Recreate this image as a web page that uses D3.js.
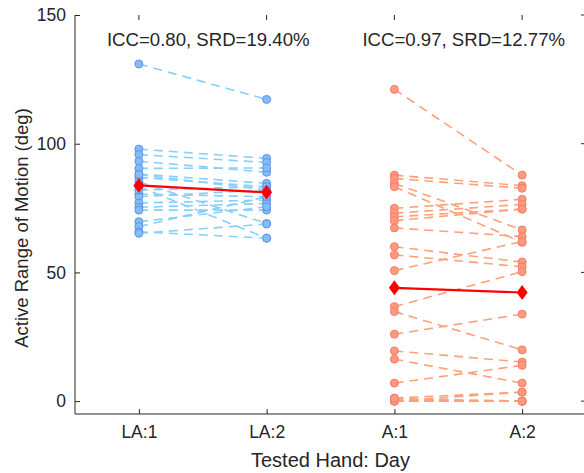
<!DOCTYPE html>
<html lang="en">
<head>
<meta charset="UTF-8">
<title>Active Range of Motion</title>
<script src="https://d3js.org/d3.v7.min.js"></script>
<style>
  body { margin: 0; background: #fff; }
  text { font-family: "Liberation Sans", Arial, sans-serif; fill: #262626; }
</style>
</head>
<body>
<div id="chart"></div>
<script>
// x positions and labels
var tickLabels = ["LA:1", "LA:2", "A:1", "A:2"];
var yTicks = [0, 50, 100, 150];

// left-hand (LA) subjects, day 1 and day 2
var la1 = [131, 97.9, 95.8, 93.2, 90.4, 88.2, 86.9, 85.2, 83.3, 80.4, 79.4, 77.0, 75.3, 74.2, 69.7, 67.8, 65.8, 65.2, 82.0, 88.0];
var la2 = [117.2, 94.3, 92.7, 88.9, 90.6, 84.6, 83.3, 69.0, 63.3, 79.4, 82.0, 78.1, 76.8, 74.2, 75.5, 79.4, 63.3, 68.8, 83.3, 82.0];

// affected hand (A) subjects, day 1 and day 2
var a1 = [121.1, 87.8, 86.5, 84.6, 83.3, 74.9, 73.0, 71.6, 70.1, 67.3, 60.0, 56.8, 50.7, 36.7, 34.8, 26.0, 19.5, 16.3, 7.0, 1.2, 0, 0, 0, 0.5, 0, 1.0];
var a2 = [87.8, 83.7, 82.7, 66.5, 61.7, 78.4, 76.4, 74.6, 74.6, 63.9, 54.0, 52.2, 62.0, 50.3, 19.9, 33.8, 15.2, 7.0, 13.9, 3.5, 0, 0, 0, 0, 3.5, 0];

// group means
var meanLA = [83.8, 81.1];
var meanA = [44.0, 42.2];

var notes = ["ICC=0.80, SRD=19.40%", "ICC=0.97, SRD=12.77%"];
var notePos = [0.75, 2.75];

var W = 584, H = 473;
var x = d3.scaleLinear().domain([0.5, 4.5]).range([75, 586]);
var y = d3.scaleLinear().domain([-5, 150]).range([414, 15]);

var svg = d3.select("#chart").append("svg")
  .attr("width", W).attr("height", H);

var plot = svg.append("g");

function drawPairs(d1, d2, xs, lineCol, fillCol, edgeCol) {
  for (var i = 0; i < d1.length; i++) {
    var pts = [[xs[0], d1[i]], [xs[1], d2[i]]];
    var g = plot.append("g");
    g.append("path")
      .attr("d", d3.line().x(function(d) { return x(d[0]); }).y(function(d) { return y(d[1]); })(pts))
      .attr("fill", "none")
      .attr("stroke", lineCol)
      .attr("stroke-width", 1.6)
      .attr("stroke-dasharray", "9,6");
    g.selectAll("circle").data(pts).join("circle")
      .attr("cx", function(d) { return x(d[0]); })
      .attr("cy", function(d) { return y(d[1]); })
      .attr("r", 4)
      .attr("fill", fillCol)
      .attr("stroke", edgeCol)
      .attr("stroke-width", 1);
  }
}

drawPairs(la1, la2, [1, 2], "#87cefa", "#82bdf8", "#5f93e8");
drawPairs(a1, a2, [3, 4], "#ffa07a", "#ff9a7e", "#f47f6a");

function drawMean(m, xs) {
  var pts = [[xs[0], m[0]], [xs[1], m[1]]];
  plot.append("path")
    .attr("d", d3.line().x(function(d) { return x(d[0]); }).y(function(d) { return y(d[1]); })(pts))
    .attr("fill", "none")
    .attr("stroke", "#ff0000")
    .attr("stroke-width", 2.2);
  plot.selectAll(null).data(pts).join("path")
    .attr("transform", function(d) { return "translate(" + x(d[0]) + "," + y(d[1]) + ")"; })
    .attr("d", "M0,-7.5L5.5,0L0,7.5L-5.5,0Z")
    .attr("fill", "#ff0000");
}
drawMean(meanLA, [1, 2]);
drawMean(meanA, [3, 4]);

// axes (box with inward ticks)
var axisCol = "#262626";
var x0 = x.range()[0], x1 = x.range()[1], y0 = y.range()[0], y1 = y.range()[1];
svg.append("line").attr("x1", x0).attr("x2", x1).attr("y1", y0).attr("y2", y0).attr("stroke", axisCol);
svg.append("line").attr("x1", x0).attr("x2", x0).attr("y1", y0).attr("y2", y1).attr("stroke", axisCol);
svg.append("line").attr("x1", x1 - 0.5).attr("x2", x1 - 0.5).attr("y1", y0).attr("y2", y1).attr("stroke", axisCol);

var xg = svg.append("g").attr("transform", "translate(0," + y0 + ")")
  .call(d3.axisBottom(x).tickValues([1, 2, 3, 4]).tickSizeInner(-5).tickSizeOuter(0).tickPadding(12)
    .tickFormat(function(d) { return tickLabels[d - 1]; }));
var yg = svg.append("g").attr("transform", "translate(" + x0 + ",0)")
  .call(d3.axisLeft(y).tickValues(yTicks).tickSizeInner(-5).tickSizeOuter(0).tickPadding(9));
[xg, yg].forEach(function(g) {
  g.select(".domain").remove();
  g.selectAll("line").attr("stroke", axisCol);
  g.selectAll("text").attr("font-size", 17.5).attr("fill", axisCol)
    .style("font-family", "'Liberation Sans', Arial, sans-serif");
});
// top and right ticks
svg.append("g").selectAll("line").data([1, 2, 3, 4]).join("line")
  .attr("x1", function(d) { return x(d); }).attr("x2", function(d) { return x(d); })
  .attr("y1", y1).attr("y2", y1 + 5).attr("stroke", axisCol);
svg.append("g").selectAll("line").data(yTicks).join("line")
  .attr("x1", x1 - 5).attr("x2", x1).attr("y1", function(d) { return y(d); }).attr("y2", function(d) { return y(d); })
  .attr("stroke", axisCol);

// annotations
svg.selectAll(".note").data(notes).join("text")
  .attr("class", "note")
  .attr("x", function(d, i) { return x(notePos[i]); })
  .attr("y", y(140))
  .attr("dominant-baseline", "middle")
  .attr("font-size", 18.6)
  .attr("fill", "#000")
  .text(function(d) { return d; });

// axis labels
svg.append("text")
  .attr("x", x((0.5 + 4.5) / 2)).attr("y", 467)
  .attr("text-anchor", "middle").attr("font-size", 20)
  .text("Tested Hand: Day");
svg.append("text")
  .attr("transform", "translate(28,228) rotate(-90)")
  .attr("text-anchor", "middle").attr("font-size", 18.5)
  .text("Active Range of Motion (deg)");
</script>
</body>
</html>
